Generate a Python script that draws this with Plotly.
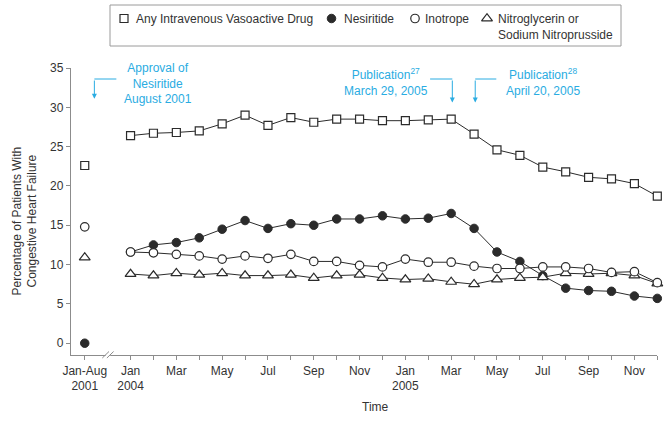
import plotly.graph_objects as go

# ---------------- data ----------------
months = ["Jan 2004", "Feb 2004", "Mar 2004", "Apr 2004", "May 2004", "Jun 2004",
          "Jul 2004", "Aug 2004", "Sep 2004", "Oct 2004", "Nov 2004", "Dec 2004",
          "Jan 2005", "Feb 2005", "Mar 2005", "Apr 2005", "May 2005", "Jun 2005",
          "Jul 2005", "Aug 2005", "Sep 2005", "Oct 2005", "Nov 2005", "Dec 2005"]
tick_labels = ["Jan<br>2004", "", "Mar", "", "May", "", "Jul", "", "Sep", "", "Nov", "",
               "Jan<br>2005", "", "Mar", "", "May", "", "Jul", "", "Sep", "", "Nov", ""]
baseline_label = "Jan-Aug<br>2001"

any_iv_2001 = 22.6
nesiritide_2001 = 0.0
inotrope_2001 = 14.8
nitro_2001 = 10.9

any_iv = [26.4, 26.7, 26.8, 27.0, 27.9, 29.0, 27.7, 28.7, 28.1, 28.5, 28.5, 28.3,
          28.3, 28.4, 28.5, 26.6, 24.6, 23.9, 22.4, 21.8, 21.1, 20.9, 20.3, 18.7]
nesiritide = [11.6, 12.5, 12.8, 13.4, 14.5, 15.6, 14.6, 15.2, 15.0, 15.8, 15.8, 16.2,
              15.8, 15.9, 16.5, 14.6, 11.6, 10.4, 8.6, 7.0, 6.7, 6.6, 6.0, 5.7]
inotrope = [11.6, 11.5, 11.3, 11.1, 10.7, 11.1, 10.8, 11.3, 10.4, 10.4, 9.9, 9.7,
            10.7, 10.3, 10.3, 9.8, 9.5, 9.5, 9.7, 9.7, 9.5, 9.0, 9.1, 7.7]
nitro = [8.8, 8.6, 8.9, 8.7, 8.9, 8.6, 8.6, 8.7, 8.3, 8.6, 8.7, 8.3,
         8.1, 8.2, 7.8, 7.5, 8.1, 8.3, 8.4, 8.9, 8.8, 8.9, 8.6, 7.6]

legend_names = ["Any Intravenous Vasoactive Drug", "Nesiritide", "Inotrope",
                "Nitroglycerin or<br>Sodium Nitroprusside"]

# ---------------- style / layout constants ----------------
W, H = 671, 421
FONT = "Liberation Sans"
TXT = "#333333"
CYAN = "#2AACE2"
AX = "#8c8c8c"
LINE = "#2b2b2b"

def fx(px):   # figure pixel -> paper fraction (margins are zero)
    return px / W

def fy(py):
    return (H - py) / H

PLOT_L, PLOT_R, PLOT_T, PLOT_B = 71, 657.3, 68, 355

x_month = list(range(len(months)))
x_base = -2  # Jan-Aug 2001 baseline slot, two slots before Jan 2004

styles = {
    "Any Intravenous Vasoactive Drug": dict(symbol="square", size=8, color="white",
                                            line=dict(color=LINE, width=1.2)),
    "Nesiritide": dict(symbol="circle", size=8.5, color=LINE, line=dict(color=LINE, width=1)),
    "Inotrope": dict(symbol="circle", size=8.5, color="white", line=dict(color=LINE, width=1.2)),
    "Nitroglycerin or<br>Sodium Nitroprusside": dict(symbol="triangle-up", size=9.5, color="white",
                                                      line=dict(color=LINE, width=1.2)),
}

series = [  # drawing order (bottom to top)
    ("Nesiritide", nesiritide, nesiritide_2001),
    ("Nitroglycerin or<br>Sodium Nitroprusside", nitro, nitro_2001),
    ("Inotrope", inotrope, inotrope_2001),
    ("Any Intravenous Vasoactive Drug", any_iv, any_iv_2001),
]

fig = go.Figure()

for name, vals, base in series:
    fig.add_trace(go.Scatter(x=x_month, y=vals, mode="lines",
                             line=dict(color=LINE, width=1), showlegend=False,
                             hoverinfo="skip"))
for name, vals, base in series:
    fig.add_trace(go.Scatter(x=[x_base] + x_month, y=[base] + vals, mode="markers",
                             marker=styles[name], name=name.replace("<br>", " "),
                             showlegend=False, cliponaxis=False))

# ---------------- legend (drawn box with keys) ----------------
LEG_BOX = (110, 5, 621, 46)
LEG_KEY_X = [124, 331.5, 415, 487]
LEG_TEXT_X = [133.5, 341.5, 423, 496]
LEG_ROW_Y = 18.5

fig.add_shape(type="rect", xref="paper", yref="paper",
              x0=fx(LEG_BOX[0]), x1=fx(LEG_BOX[2]), y0=fy(LEG_BOX[3]), y1=fy(LEG_BOX[1]),
              line=dict(color="#9a9a9a", width=1), fillcolor="rgba(0,0,0,0)")
for nm, kx in zip(legend_names, LEG_KEY_X):
    fig.add_trace(go.Scatter(x=[kx], y=[LEG_ROW_Y], mode="markers", marker=styles[nm],
                             xaxis="x2", yaxis="y2", showlegend=False, hoverinfo="skip",
                             cliponaxis=False))
for nm, tx in zip(legend_names, LEG_TEXT_X):
    fig.add_annotation(text=nm, xref="paper", yref="paper", x=fx(tx), y=fy(LEG_ROW_Y - 8.5),
                       xanchor="left", yanchor="top", align="left", showarrow=False,
                       font=dict(size=12, color=TXT))

fig.update_layout(
    width=W, height=H,
    margin=dict(l=0, r=0, t=0, b=0, autoexpand=False),
    paper_bgcolor="white", plot_bgcolor="rgba(0,0,0,0)",
    font=dict(family=FONT, size=12, color=TXT),
    showlegend=False,
    hovermode=False,
    xaxis=dict(domain=[fx(PLOT_L), fx(PLOT_R)], anchor="y",
               range=[-2.6, 23.0], tickvals=[x_base] + x_month,
               ticktext=[baseline_label] + tick_labels,
               showline=True, linecolor=AX, linewidth=1.2, ticks="outside",
               ticklen=4, tickcolor=AX, tickwidth=1, showgrid=False, zeroline=False,
               automargin=False, tickfont=dict(size=12, color=TXT)),
    yaxis=dict(domain=[fy(PLOT_B), fy(PLOT_T)], anchor="x",
               range=[-1.5, 35], tickvals=[0, 5, 10, 15, 20, 25, 30, 35],
               showline=True, linecolor=AX, linewidth=1.2, ticks="outside",
               ticklen=4, tickcolor=AX, tickwidth=1, showgrid=False, zeroline=False,
               automargin=False, tickfont=dict(size=12, color=TXT)),
    xaxis2=dict(domain=[0, 1], anchor="y2", range=[0, W], visible=False, fixedrange=True),
    yaxis2=dict(domain=[0, 1], anchor="x2", range=[H, 0], visible=False, fixedrange=True),
)

# axis titles
fig.add_annotation(text="Percentage of Patients With<br>Congestive Heart Failure",
                   xref="paper", yref="paper", x=fx(24.5), y=fy(221), textangle=-90,
                   showarrow=False, font=dict(size=12, color=TXT),
                   xanchor="center", yanchor="middle")
fig.add_annotation(text="Time", xref="paper", yref="paper", x=fx(375.5), y=fy(406.5),
                   showarrow=False, font=dict(size=12, color=TXT),
                   xanchor="center", yanchor="middle")

# axis break marks
fig.add_shape(type="rect", xref="paper", yref="paper",
              x0=fx(105.6), x1=fx(110.2), y0=fy(356.5), y1=fy(353.5),
              fillcolor="white", line=dict(width=0), layer="above")
for a, b in [(102.3, 109.0), (106.9, 113.6)]:
    fig.add_shape(type="line", xref="paper", yref="paper",
                  x0=fx(a), y0=fy(358), x1=fx(b), y1=fy(351.5),
                  line=dict(color=AX, width=1), layer="above")

# event annotations (cyan)
events = [
    # text, text centre (px), arrow x (data), far end of elbow (data)
    ("Approval of<br>Nesiritide<br>August 2001", (158, 83), -1.58, -0.62),
    ("Publication<sup>27</sup><br>March 29, 2005", (386, 82), 14.05, 13.08),
    ("Publication<sup>28</sup><br>April 20, 2005", (543, 82), 15.05, 15.97),
]
ELBOW_Y = 33.6
TIP_Y = {0: 31.1, 1: 30.6, 2: 30.6}
for i, (text, (tx, ty), ax_x, hx) in enumerate(events):
    fig.add_annotation(text=text, xref="paper", yref="paper", x=fx(tx), y=fy(ty),
                       showarrow=False, font=dict(size=12, color=CYAN),
                       xanchor="center", yanchor="middle", align="center")
    fig.add_shape(type="line", xref="x", yref="y", x0=hx, x1=ax_x, y0=ELBOW_Y, y1=ELBOW_Y,
                  line=dict(color=CYAN, width=1))
    fig.add_annotation(text="", xref="x", yref="y", x=ax_x, y=TIP_Y[i],
                       axref="x", ayref="y", ax=ax_x, ay=ELBOW_Y,
                       showarrow=True, arrowhead=2, arrowsize=1, arrowwidth=1,
                       arrowcolor=CYAN, standoff=0)

fig.write_html("out.html", config={"displayModeBar": False, "staticPlot": True},
               post_script="document.body.style.margin='0px';document.body.style.padding='0px';")
